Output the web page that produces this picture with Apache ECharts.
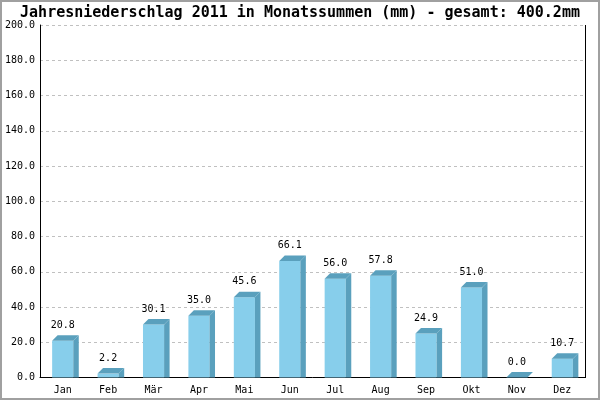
<!DOCTYPE html>
<html>
<head>
<meta charset="utf-8">
<script src="https://cdn.jsdelivr.net/npm/echarts@6/dist/echarts.min.js"></script>
<style>html,body{margin:0;padding:0;background:#fff}#c{width:600px;height:400px}</style>
</head>
<body>
<div id="c"></div>
<script>
var titleText = 'Jahresniederschlag 2011 in Monatssummen (mm) - gesamt: 400.2mm';
var months = ['Jan','Feb','Mär','Apr','Mai','Jun','Jul','Aug','Sep','Okt','Nov','Dez'];
var rain = [20.8, 2.2, 30.1, 35.0, 45.6, 66.1, 56.0, 57.8, 24.9, 51.0, 0.0, 10.7];
var yTicks = {min: 0, max: 200, interval: 20};

var FRONT = '#87CEEB', SIDE = '#5aa0bd', FONT = 'DejaVu Sans Mono';
var chart = echarts.init(document.getElementById('c'), null, {renderer: 'canvas'});
chart.setOption({
  animation: false,
  backgroundColor: '#fff',
  title: {
    text: titleText, left: 'center', top: 6, padding: 0,
    textStyle: {fontFamily: FONT, fontWeight: 'bold', fontSize: 15, color: '#000'}
  },
  graphic: [{
    type: 'rect', shape: {x: 1, y: 1, width: 598, height: 398},
    style: {fill: 'none', stroke: '#a0a0a0', lineWidth: 2}, silent: true
  }, {
    type: 'line', shape: {x1: 585.5, y1: 25, x2: 585.5, y2: 378},
    style: {stroke: '#000', lineWidth: 1}, silent: true
  }],
  grid: {left: 40, right: 15, top: 25, bottom: 22.5},
  xAxis: {
    type: 'category', data: months, boundaryGap: true,
    axisLine: {lineStyle: {color: '#000', width: 1}},
    axisTick: {show: false},
    axisLabel: {fontFamily: FONT, fontSize: 10, color: '#000', margin: 8}
  },
  yAxis: {
    type: 'value', min: yTicks.min, max: yTicks.max, interval: yTicks.interval,
    axisLine: {show: true, lineStyle: {color: '#000', width: 1}},
    axisTick: {show: false},
    axisLabel: {fontFamily: FONT, fontSize: 10, color: '#000', margin: 5,
      formatter: function (v) { return v.toFixed(1); }},
    splitLine: {show: true, lineStyle: {color: '#c0c0c0', type: [3, 3], width: 1}}
  },
  series: [{
    type: 'custom',
    data: rain,
    clip: false,
    renderItem: function (params, api) {
      var idx = params.dataIndex;
      var v = api.value(1);
      var top = api.coord([idx, v]);
      var base = api.coord([idx, 0]);
      var bw = api.size([1, 0])[0] * 0.465;
      var d = 5.5;
      var x0 = top[0] - bw / 2, x1 = top[0] + bw / 2;
      var yt = top[1], y0 = base[1];
      var children = [];
      if (y0 - yt > 0) {
        children.push({type: 'rect', shape: {x: x0, y: yt, width: bw, height: y0 - yt}, style: {fill: FRONT}});
        children.push({type: 'polygon', shape: {points: [[x1, yt], [x1 + d, yt - d], [x1 + d, y0], [x1, y0]]}, style: {fill: SIDE}});
      }
      children.push({type: 'polygon', shape: {points: [[x0, yt], [x0 + d, yt - d], [x1 + d, yt - d], [x1, yt]]}, style: {fill: SIDE}});
      children.push({type: 'text', style: {
        text: v.toFixed(1), x: top[0], y: yt - d - 5,
        textAlign: 'center', textVerticalAlign: 'bottom',
        font: '10px "DejaVu Sans Mono"', fill: '#000'}});
      return {type: 'group', children: children};
    }
  }]
});
</script>
</body>
</html>
